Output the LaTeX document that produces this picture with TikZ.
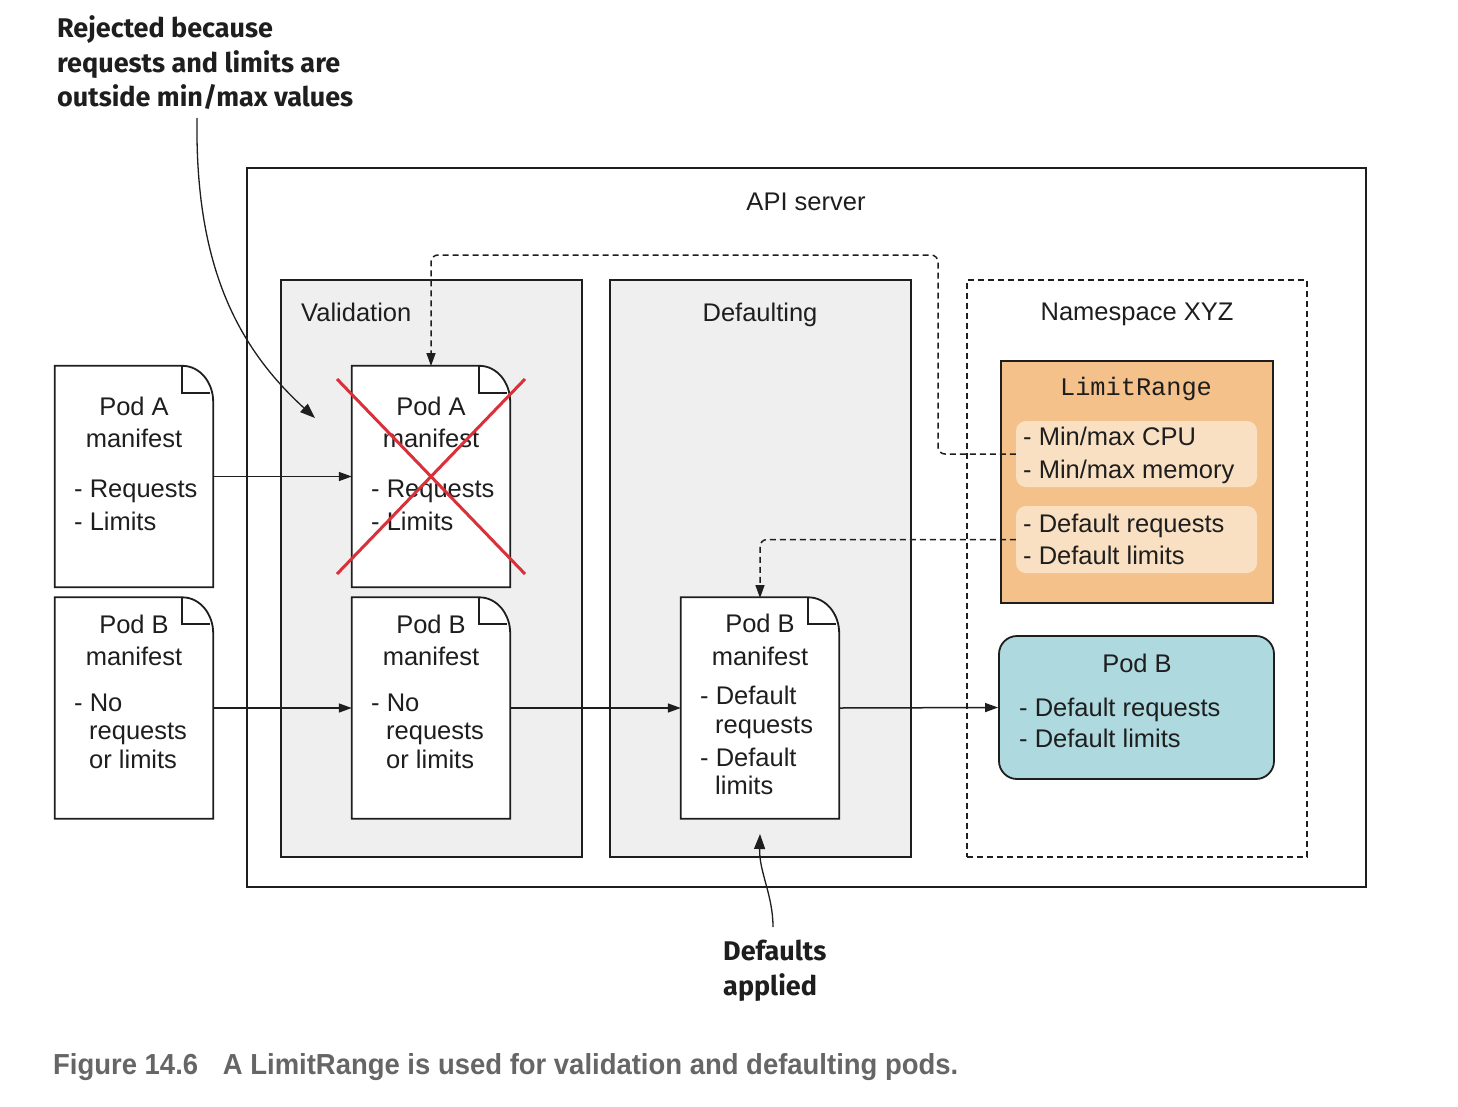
\documentclass[tikz,border=0pt]{standalone}
\usepackage{fontspec}
\setmainfont{Liberation Sans}
\newfontfamily\lrmono{Liberation Mono}
\newfontfamily\annfont{Fira Sans}
\usetikzlibrary{arrows.meta,calc}
\definecolor{panelgray}{RGB}{239,239,239}
\definecolor{lrorange}{RGB}{244,193,139}
\definecolor{lrlight}{RGB}{250,224,195}
\definecolor{podblue}{RGB}{173,217,223}
\definecolor{xred}{RGB}{218,48,58}
\definecolor{capgray}{RGB}{102,102,102}
\definecolor{ink}{RGB}{30,30,30}
\tikzset{
  box/.style={draw=ink,line width=1.8pt,inner sep=0pt,rectangle},
  panel/.style={box,fill=panelgray},
  docbox/.style={draw=none,inner sep=0pt,minimum width=158pt,minimum height=221pt},
  docline/.style={draw=ink,line width=1.8pt,line join=miter},
  txt/.style={inner sep=0pt,anchor=base,font=\fontsize{25.5}{33}\selectfont,text=ink},
  ltxt/.style={txt,anchor=base west},
  arr/.style={draw=ink,line width=1.5pt,-{Triangle[length=13pt,width=9pt]}},
  dasharr/.style={arr,dash pattern=on 6pt off 4pt,rounded corners=7pt},
  ann/.style={inner sep=0pt,anchor=base west,font=\annfont\bfseries\fontsize{27}{35}\selectfont,text=ink},
  annarr/.style={draw=ink,line width=1.3pt,-{Triangle[length=15pt,width=11pt]}},
}
\newcommand\docoutline[1]{%
  \draw[docline,fill=white] (#1.south west) -- (#1.north west) -- ($(#1.north east)+(-31,0)$)
    .. controls ($(#1.north east)+(-13,0)$) and ($(#1.north east)+(0,17)$) .. ($(#1.north east)+(0,36)$)
    -- (#1.south east) -- cycle;
  \draw[docline] ($(#1.north east)+(-31,0)$) -- ($(#1.north east)+(-31,27)$) -- ($(#1.north east)+(-3,27)$);
}
\begin{document}
\begin{tikzpicture}[x=1pt,y=-1pt]
\useasboundingbox (0,0) rectangle (1458,1106);
\fill[white] (0,0) rectangle (1458,1106);

% API server
\node[box,minimum width=1119pt,minimum height=719pt] (api) at (806.5,527.5) {};
\node[txt] (apit) at (806,210) {API server};

% Panels
\node[panel,minimum width=301pt,minimum height=577pt] (val) at (431.5,568.5) {};
\node[panel,minimum width=301pt,minimum height=577pt] (def) at (760.5,568.5) {};
\node[ltxt] (valt) at (301,321) {Validation};
\node[txt] (deft) at (760,321) {Defaulting};

% Namespace
\node[box,dash pattern=on 6pt off 4pt,line width=1.5pt,minimum width=340pt,minimum height=577pt] (ns) at (1137,568.5) {};
\node[txt] (nst) at (1137,320) {Namespace XYZ};

% LimitRange
\node[box,fill=lrorange,minimum width=272pt,minimum height=242pt] (lr) at (1137,482) {};
\node[txt,font=\lrmono\fontsize{25.3}{33}\selectfont] (lrt) at (1136,395) {LimitRange};
\node[draw=none,fill=lrlight,rounded corners=10pt,minimum width=241pt,minimum height=66pt,inner sep=0pt] (lr1) at (1136.5,454) {};
\node[draw=none,fill=lrlight,rounded corners=10pt,minimum width=241pt,minimum height=67pt,inner sep=0pt] (lr2) at (1136.5,539.5) {};
\node[ltxt] (lr1a) at (1023,445) {- Min/max CPU};
\node[ltxt] (lr1b) at (1023,478) {- Min/max memory};
\node[ltxt] (lr2a) at (1023,532) {- Default requests};
\node[ltxt] (lr2b) at (1023,564) {- Default limits};

% Pod B result
\node[box,fill=podblue,rounded corners=18pt,minimum width=275pt,minimum height=143pt] (podb) at (1136.5,707.5) {};
\node[txt] (podbt) at (1137,672) {Pod B};
\node[ltxt] (podba) at (1019,716) {- Default requests};
\node[ltxt] (podbb) at (1019,747) {- Default limits};

% Dashed connectors
\draw[dasharr] (lr1.west) -- (938,454) -- (938,255) -- (431,255) -- (431,366);
\draw[dasharr] (lr2.west) -| (760,598);

% Documents
\node[docbox] (pa) at (134,476.5) {};
\node[docbox] (pb) at (134,708) {};
\node[docbox] (pam) at (431,476.5) {};
\node[docbox] (pbm) at (431,708) {};
\node[docbox] (pbd) at (760,708) {};
\docoutline{pa}
\docoutline{pb}
\docoutline{pam}
\docoutline{pbm}
\docoutline{pbd}

% Pod A left
\node[txt] (pa1) at (134,415) {Pod A};
\node[txt] (pa2) at (134,447) {manifest};
\node[ltxt] (pa3) at (74,497) {- Requests};
\node[ltxt] (pa4) at (74,530) {- Limits};
% Pod B left
\node[txt] (pb1) at (134,633) {Pod B};
\node[txt] (pb2) at (134,665) {manifest};
\node[ltxt] (pb3) at (74,711) {- No};
\node[ltxt] (pb4) at (89,739) {requests};
\node[ltxt] (pb5) at (89,768) {or limits};
% Pod A middle
\node[txt] (pam1) at (431,415) {Pod A};
\node[txt] (pam2) at (431,447) {manifest};
\node[ltxt] (pam3) at (371,497) {- Requests};
\node[ltxt] (pam4) at (371,530) {- Limits};
% Pod B middle
\node[txt] (pbm1) at (431,633) {Pod B};
\node[txt] (pbm2) at (431,665) {manifest};
\node[ltxt] (pbm3) at (371,711) {- No};
\node[ltxt] (pbm4) at (386,739) {requests};
\node[ltxt] (pbm5) at (386,768) {or limits};
% Pod B defaulted
\node[txt] (pbd1) at (760,632) {Pod B};
\node[txt] (pbd2) at (760,665) {manifest};
\node[ltxt] (pbd3) at (700,704) {- Default};
\node[ltxt] (pbd4) at (715,733) {requests};
\node[ltxt] (pbd5) at (700,766) {- Default};
\node[ltxt] (pbd6) at (715,794) {limits};

% Flow arrows
\draw[arr] (pa.east) -- (pam.west);
\draw[arr] (pb.east) -- (pbm.west);
\draw[arr] (pbm.east) -- (pbd.west);
\draw[arr] (pbd.east) -- (podb.west);

% Red cross
\draw[xred,line width=3pt] (337,379) -- (525,574);
\draw[xred,line width=3pt] (525,379) -- (337,574);

% Annotations
\node[ann] (rej1) at (57,37) {Rejected because};
\node[ann] (rej2) at (57,72) {requests and limits are};
\node[ann] (rej3) at (57,106) {outside min/max values};
\coordinate (rejtip) at (315,418);
\draw[annarr] (197,118) .. controls (195,262) and (235,345) .. (rejtip);

\node[ann] (defa1) at (723,960) {Defaults};
\node[ann] (defa2) at (723,995) {applied};
\coordinate (deftip) at (760,834);
\draw[annarr] (773,927) .. controls (773,895) and (759,872) .. (deftip);

% Caption
\node[inner sep=0pt,anchor=base west,text=capgray] (cap) at (53,1074)
  {\resizebox{905pt}{21pt}{\bfseries Figure 14.6\hspace{0.9em}A LimitRange is used for validation and defaulting pods.}};
\end{tikzpicture}
\end{document}
